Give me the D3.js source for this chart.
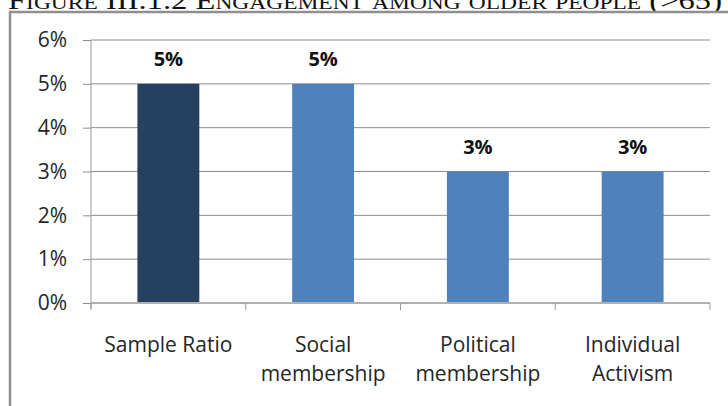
<!DOCTYPE html>
<html>
<head>
<meta charset="utf-8">
<script src="https://d3js.org/d3.v7.min.js"></script>
<style>
body { margin: 0; background: #fff; }
svg { display: block; }
</style>
</head>
<body>
<div id="chart"></div>
<script>
var width = 728;
var height = 406;

var title = "Figure III.1.2 Engagement among older people (>65)";
var categories = ["Sample Ratio", "Social membership", "Political membership", "Individual Activism"];
var values = [0.05, 0.05, 0.03, 0.03];
var barColors = ["#254061", "#4f81bd", "#4f81bd", "#4f81bd"];
var yTicks = [0, 0.01, 0.02, 0.03, 0.04, 0.05, 0.06];

var plot = { left: 91, right: 710, top: 40, bottom: 303 };
var font = "'Open Sans', sans-serif";

var svg = d3.select("#chart").append("svg").attr("width", width).attr("height", height);

// caption, mostly cut off at the top of the picture
svg.append("text")
.attr("x", 8)
.attr("y", 9)
.attr("textLength", 714)
.attr("lengthAdjust", "spacingAndGlyphs")
.style("font-family", "'Liberation Serif', serif")
.style("font-size", "25px")
.style("font-variant", "small-caps")
.style("fill", "#111")
.text(title);

// chart frame
svg.append("rect")
.attr("x", 10).attr("y", 12)
.attr("width", 740).attr("height", 420)
.style("fill", "#fff")
.style("stroke", "#8f8f8f")
.style("stroke-width", 2.5);

var x = d3.scaleBand().domain(categories).range([plot.left, plot.right])
.paddingInner(0.6).paddingOuter(0.3);
var y = d3.scaleLinear().domain([0, 0.06]).range([plot.bottom, plot.top]);

// gridlines
svg.selectAll(".grid").data(yTicks.slice(1))
.enter().append("line")
.attr("class", "grid")
.attr("x1", plot.left).attr("x2", plot.right)
.attr("y1", function(d) { return y(d); })
.attr("y2", function(d) { return y(d); })
.style("stroke", "#8c8c8c")
.style("stroke-width", 1);

// y axis
var yAxis = d3.axisLeft(y).tickValues(yTicks).tickFormat(d3.format(".0%"))
.tickSize(8).tickPadding(16);
var yg = svg.append("g").attr("transform", "translate(" + plot.left + ",0)").call(yAxis);
yg.select(".domain").attr("d", "M0," + plot.top + "V" + (plot.bottom + 6))
.style("stroke", "#9a9a9a");
yg.selectAll(".tick line").style("stroke", "#8c8c8c");
yg.selectAll("text")
.style("font-family", font).style("font-size", "21px").style("fill", "#262626");

// bars
svg.selectAll(".bar").data(values)
.enter().append("rect")
.attr("class", "bar")
.attr("x", function(d, i) { return x(categories[i]); })
.attr("y", function(d) { return y(d); })
.attr("width", x.bandwidth())
.attr("height", function(d) { return y(0) - y(d); })
.style("fill", function(d, i) { return barColors[i]; });

// value labels
svg.selectAll(".val").data(values)
.enter().append("text")
.attr("class", "val")
.attr("x", function(d, i) { return x(categories[i]) + x.bandwidth() / 2; })
.attr("y", function(d) { return y(d) - 18; })
.attr("text-anchor", "middle")
.style("font-family", font).style("font-size", "20px").style("font-weight", "bold")
.style("fill", "#111")
.text(d3.format(".0%"));

// x axis line with category boundary ticks
var step = x.step();
svg.append("line")
.attr("x1", plot.left).attr("x2", plot.right)
.attr("y1", plot.bottom).attr("y2", plot.bottom)
.style("stroke", "#b0b0b0").style("stroke-width", 2);
svg.selectAll(".xtick").data(d3.range(categories.length + 1))
.enter().append("line")
.attr("class", "xtick")
.attr("x1", function(i) { return plot.left + i * step; })
.attr("x2", function(i) { return plot.left + i * step; })
.attr("y1", plot.bottom).attr("y2", plot.bottom + 7)
.style("stroke", "#9a9a9a");

// category labels, wrapped to fit the slot
var labels = svg.selectAll(".cat").data(categories)
.enter().append("text")
.attr("class", "cat")
.attr("text-anchor", "middle")
.style("font-family", font).style("font-size", "21px").style("fill", "#262626");

labels.each(function(d) {
	var t = d3.select(this);
	var cx = x(d) + x.bandwidth() / 2;
	t.text(d);
	var lines = [d];
	if (this.getComputedTextLength() > step - 10) lines = d.split(" ");
	t.text(null);
	lines.forEach(function(line, k) {
		t.append("tspan").attr("x", cx).attr("y", 352 + k * 29).text(line);
	});
});
</script>
</body>
</html>
